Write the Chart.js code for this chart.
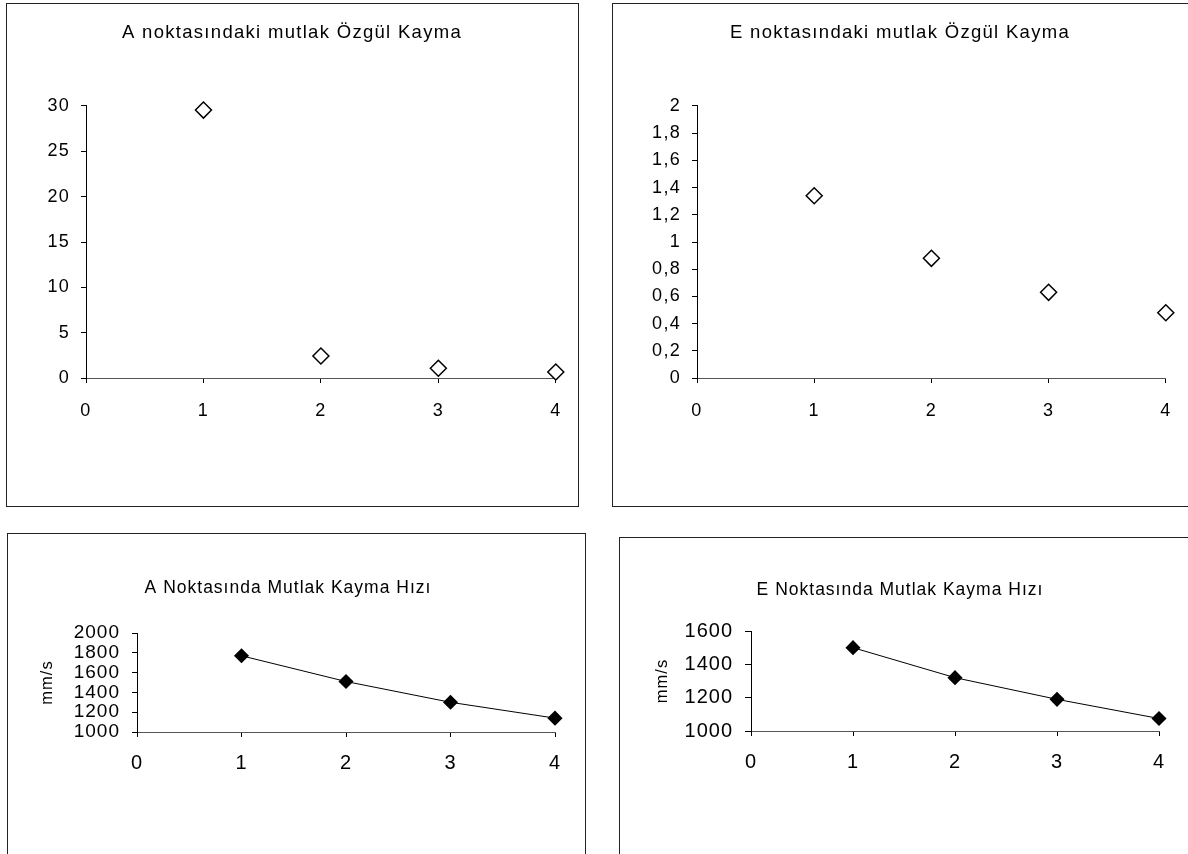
<!DOCTYPE html>
<html>
<head>
<meta charset="utf-8">
<script src="https://cdn.jsdelivr.net/npm/chart.js@4.4.0/dist/chart.umd.min.js"></script>
<style>
html, body { margin: 0; padding: 0; background: #fff; width: 1188px; height: 854px; overflow: hidden; position: relative; }
.box { position: absolute; border: 1.5px solid #222; box-sizing: border-box; pointer-events: none; }
canvas { position: absolute; }
</style>
</head>
<body>
<div class="box" style="left:6px;top:3px;width:573px;height:504px"></div>
<div class="box" style="left:612px;top:3px;width:600px;height:504px"></div>
<div class="box" style="left:7px;top:533px;width:579px;height:400px"></div>
<div class="box" style="left:619px;top:537px;width:600px;height:400px"></div>
<canvas id="c1"></canvas>
<canvas id="c2"></canvas>
<canvas id="c3"></canvas>
<canvas id="c4"></canvas>
<script>
// data
const xValues = [1, 2, 3, 4];
const aSlip = [29.55, 2.43, 1.07, 0.66];   // A noktasi, ozgul kayma
const eSlip = [1.34, 0.88, 0.63, 0.48];    // E noktasi, ozgul kayma
const aSpeed = [1770, 1510, 1300, 1140];   // A noktasi, mm/s
const eSpeed = [1500, 1320, 1190, 1075];   // E noktasi, mm/s

Chart.defaults.font.family = "'Liberation Sans', Arial, sans-serif";
Chart.defaults.color = '#000';

function points(ys) {
    return xValues.map((x, i) => ({ x: x, y: ys[i] }));
}

function commaLabel(v) {
    return String(Math.round(v * 10) / 10).replace('.', ',');
}

function makeChart(id, o) {
    const cv = document.getElementById(id);
    cv.width = o.w;
    cv.height = o.h;
    cv.style.left = o.left + 'px';
    cv.style.top = o.top + 'px';

    // fit the plot area to where it sits in the picture
    const pr = o.left + o.w - o.plot.right;
    const pl = 2 * (o.titleX - o.left) - (o.w - pr);
    const yWidth = o.plot.left - o.left - pl;
    const lh = o.titleSize * 1.2;
    const tTop = o.titleY - o.top - lh / 2;
    const tBottom = o.plot.top - o.top - tTop - lh;
    const xHeight = o.top + o.h - o.plot.bottom;
    const xLh = o.xTickSize * 1.2;

    const yAxis = {
        min: o.yMin,
        max: o.yMax,
        afterFit: s => { s.width = yWidth; },
        border: { color: '#000', width: 1 },
        grid: { drawOnChartArea: false, tickLength: o.yTickLen, color: '#000' },
        ticks: {
            stepSize: o.yStep,
            autoSkip: false,
            padding: o.yPad,
            font: { size: o.yTickSize },
            callback: o.comma ? commaLabel : (v => String(v))
        }
    };
    if (o.yTitle) {
        const ylh = 16.5 * 1.2;
        yAxis.title = {
            display: true,
            text: o.yTitle,
            font: { size: 16.5 },
            padding: { top: o.yTitleX - o.left - pl - ylh / 2, bottom: 0 }
        };
    }

    return new Chart(cv.getContext('2d'), {
        type: 'scatter',
        data: {
            datasets: [{
                data: points(o.values),
                showLine: o.line,
                borderColor: '#000',
                borderWidth: 1,
                pointStyle: 'rectRot',
                pointRadius: o.r,
                pointHoverRadius: o.r,
                pointBackgroundColor: o.fill,
                pointBorderColor: '#000',
                pointBorderWidth: 1.5,
                clip: false
            }]
        },
        options: {
            responsive: false,
            animation: false,
            events: [],
            layout: { padding: { left: pl, right: pr, top: 0, bottom: 0 } },
            plugins: {
                legend: { display: false },
                tooltip: { enabled: false },
                title: {
                    display: true,
                    text: o.title,
                    font: { size: o.titleSize, weight: 'normal' },
                    padding: { top: tTop, bottom: tBottom }
                }
            },
            scales: {
                x: {
                    type: 'linear',
                    min: 0,
                    max: 4,
                    afterFit: s => { s.height = xHeight; },
                    border: { color: '#555', width: 1 },
                    grid: { drawOnChartArea: false, tickLength: 5, color: '#000' },
                    ticks: {
                        stepSize: 1,
                        autoSkip: false,
                        maxRotation: 0,
                        padding: o.xLabelGap - 5 - xLh / 2,
                        font: { size: o.xTickSize }
                    }
                },
                y: yAxis
            }
        },
        plugins: [{
            id: 'spacing',
            beforeDraw(c) { c.ctx.letterSpacing = o.spacing + 'px'; }
        }]
    });
}

makeChart('c1', {
    left: 6, top: 3, w: 572, h: 503,
    plot: { left: 86, right: 567, top: 106, bottom: 378 },
    title: 'A noktasındaki mutlak Özgül Kayma', titleX: 292, titleY: 33, titleSize: 18.5,
    values: aSlip, line: false, r: 8, fill: '#fff',
    yMin: 0, yMax: 30, yStep: 5, yTickLen: 5, yPad: 11, yTickSize: 18,
    xTickSize: 18, xLabelGap: 33, spacing: 1.3
});

makeChart('c2', {
    left: 612, top: 3, w: 576, h: 503,
    plot: { left: 697, right: 1178, top: 106, bottom: 378 },
    title: 'E noktasındaki mutlak Özgül Kayma', titleX: 900, titleY: 33, titleSize: 18.5,
    values: eSlip, line: false, r: 8, fill: '#fff',
    yMin: 0, yMax: 2, yStep: 0.2, yTickLen: 5, yPad: 11, yTickSize: 18, comma: true,
    xTickSize: 18, xLabelGap: 33, spacing: 1.3
});

makeChart('c3', {
    left: 7, top: 533, w: 578, h: 321,
    plot: { left: 137, right: 555, top: 633, bottom: 732 },
    title: 'A Noktasında Mutlak Kayma Hızı', titleX: 288, titleY: 588, titleSize: 17.5,
    values: aSpeed, line: true, r: 6.5, fill: '#000',
    yMin: 1000, yMax: 2000, yStep: 200, yTickLen: 5, yPad: 12, yTickSize: 19,
    yTitle: 'mm/s', yTitleX: 47,
    xTickSize: 20, xLabelGap: 31, spacing: 1
});

makeChart('c4', {
    left: 619, top: 537, w: 569, h: 317,
    plot: { left: 751, right: 1159, top: 631, bottom: 731 },
    title: 'E Noktasında Mutlak Kayma Hızı', titleX: 900, titleY: 590, titleSize: 17.5,
    values: eSpeed, line: true, r: 6.5, fill: '#000',
    yMin: 1000, yMax: 1600, yStep: 200, yTickLen: 6, yPad: 12, yTickSize: 20,
    yTitle: 'mm/s', yTitleX: 662,
    xTickSize: 20, xLabelGap: 31, spacing: 1
});
</script>
</body>
</html>
